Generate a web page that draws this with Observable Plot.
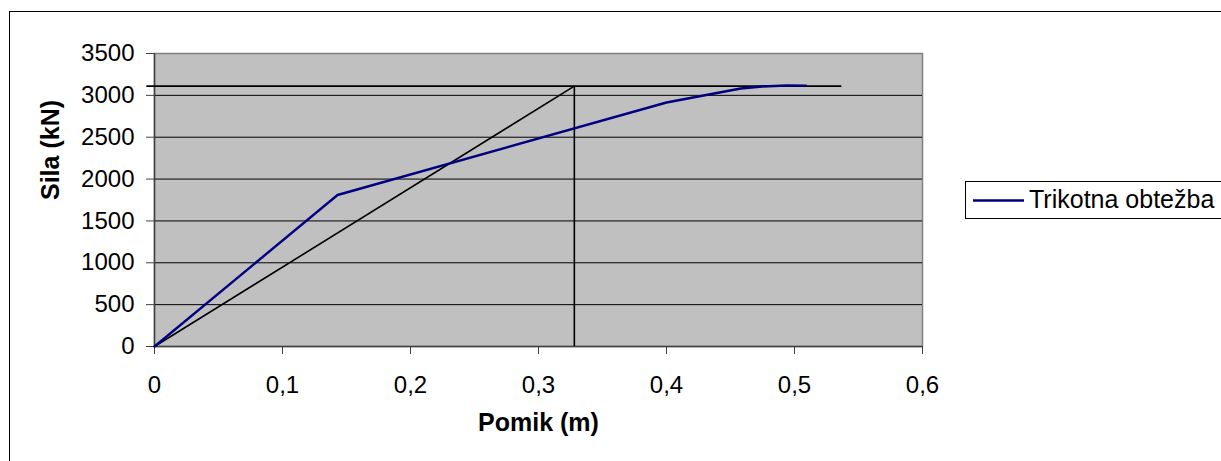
<!DOCTYPE html>
<html>
<head>
<meta charset="utf-8">
<script src="https://cdn.jsdelivr.net/npm/d3@7"></script>
<script src="https://cdn.jsdelivr.net/npm/@observablehq/plot@0.6"></script>
<style>
  html, body { margin: 0; padding: 0; background: #fff; }
  #wrap { position: relative; width: 1221px; height: 461px; overflow: hidden; font-family: "Liberation Sans", Arial, sans-serif; }
  #outer { position: absolute; left: 9px; top: 11px; width: 1400px; height: 600px; border: 1.5px solid #000; box-sizing: border-box; }
  #chart { position: absolute; left: 0; top: 0; }
  #legend { position: absolute; left: 965px; top: 181px; width: 400px; height: 38px; border: 1px solid #000; box-sizing: border-box; background: #fff; }
  #legend svg { position: absolute; left: 0; top: 0; }
  #legend span { position: absolute; left: 63px; top: 3px; font-size: 25px; color: #000; white-space: nowrap; }
</style>
</head>
<body>
<div id="wrap">
  <div id="outer"></div>
  <div id="chart"></div>
  <div id="legend">
    <svg width="60" height="36"><line x1="7" x2="58" y1="18.5" y2="18.5" stroke="#000080" stroke-width="2.5"></line></svg>
    <span id="legendText"></span>
  </div>
</div>
<script>
// ---- data ----
const seriesName = "Trikotna obtežba";
const pomik = [0, 0.143, 0.40, 0.458, 0.475, 0.494, 0.509];
const sila  = [0, 1810, 2915, 3082, 3105, 3118, 3116];

// bilinear idealization (black)
const idealX = [0, 0.328];
const idealY = [0, 3110];
const plateauY = 3110;
const plateauX1 = -0.006;
const plateauX2 = 0.537;
const yieldX = 0.328;

const xTicks = [0, 0.1, 0.2, 0.3, 0.4, 0.5, 0.6];
const xTickLabels = ["0", "0,1", "0,2", "0,3", "0,4", "0,5", "0,6"];
const yTicks = [0, 500, 1000, 1500, 2000, 2500, 3000, 3500];
const yTickLabels = ["0", "500", "1000", "1500", "2000", "2500", "3000", "3500"];
const yGrid = [500, 1000, 1500, 2000, 2500, 3000];
const xTitle = "Pomik (m)";
const yTitle = "Sila (kN)";

const curve = pomik.map((x, i) => ({x, y: sila[i]}));
const ideal = idealX.map((x, i) => ({x, y: idealY[i]}));

document.getElementById("legendText").textContent = seriesName;

const chart = Plot.plot({
  width: 1221,
  height: 461,
  marginLeft: 154,
  marginRight: 299,
  marginTop: 53,
  marginBottom: 115,
  style: {fontFamily: "'Liberation Sans', Arial, sans-serif", fontSize: "24px", background: "transparent", color: "#000"},
  x: {domain: [0, 0.6]},
  y: {domain: [0, 3500]},
  marks: [
    Plot.frame({fill: "#c0c0c0", stroke: "#808080", strokeWidth: 1.5}),
    Plot.gridY(yGrid, {stroke: "#000", strokeOpacity: 1, strokeWidth: 1}),
    Plot.ruleX([0], {stroke: "#404040", strokeWidth: 1.5}),
    Plot.ruleY([0], {stroke: "#404040", strokeWidth: 1.5}),
    Plot.axisX({ticks: xTicks, tickFormat: (d, i) => xTickLabels[i], tickSize: 8, tickPadding: 21, stroke: "#404040", label: null, fontSize: 24}),
    Plot.axisY({ticks: yTicks, tickFormat: (d, i) => yTickLabels[i], tickSize: 8, tickPadding: 12, stroke: "#404040", label: null, fontSize: 24}),
    Plot.ruleY([plateauY], {x1: plateauX1, x2: plateauX2, stroke: "#000", strokeWidth: 1.6}),
    Plot.ruleX([yieldX], {y1: 0, y2: plateauY, stroke: "#000", strokeWidth: 1.6}),
    Plot.line(ideal, {x: "x", y: "y", stroke: "#000", strokeWidth: 1.6}),
    Plot.line(curve, {x: "x", y: "y", stroke: "#000080", strokeWidth: 2.4}),
    Plot.text([xTitle], {frameAnchor: "bottom", dy: 84, fontWeight: "bold", fontSize: 25, fill: "#000"}),
    Plot.text([yTitle], {frameAnchor: "left", dx: -104, rotate: -90, fontWeight: "bold", fontSize: 25, fill: "#000"})
  ]
});
document.getElementById("chart").appendChild(chart);
</script>
</body>
</html>
